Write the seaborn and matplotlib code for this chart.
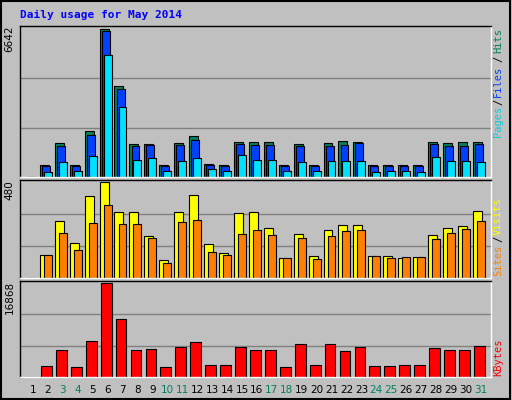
import matplotlib
matplotlib.use("Agg")
import matplotlib.pyplot as plt
import numpy as np
import pandas as pd
import seaborn as sns

sns.set_style("white")
plt.rcParams["font.family"] = ["DejaVu Sans"]

DAYS = list(range(1, 32))
WEEKEND = [3, 4, 10, 11, 17, 18, 24, 25, 31]

HITS = [0, 528, 1525, 528, 2068, 6642, 4061, 1479, 1479, 528, 1525, 1842, 574, 528, 1570, 1570,
        1570, 528, 1479, 528, 1525, 1615, 1570, 528, 528, 528, 528, 1570, 1525, 1570, 1570]
FILES = [0, 483, 1389, 483, 1887, 6551, 3970, 1389, 1434, 483, 1434, 1660, 528, 483, 1479, 1434,
         1434, 483, 1389, 483, 1389, 1434, 1525, 483, 483, 483, 483, 1479, 1389, 1389, 1479]
PAGES = [0, 211, 664, 257, 936, 5464, 3155, 755, 845, 257, 709, 845, 347, 257, 981, 755,
         755, 257, 664, 257, 709, 709, 709, 211, 257, 257, 211, 890, 709, 709, 664]
VISITS = [0, 115, 287, 177, 412, 480, 329, 329, 209, 89, 329, 417, 172, 125, 323, 329,
          250, 99, 219, 110, 240, 266, 266, 110, 110, 99, 104, 214, 250, 261, 334]
SITES = [0, 115, 224, 141, 277, 365, 271, 271, 198, 73, 282, 292, 130, 115, 219, 240,
         214, 99, 198, 94, 209, 235, 240, 110, 99, 104, 104, 193, 224, 245, 287]
KBYTES = [0, 1908, 4863, 1724, 6526, 16868, 10404, 4863, 5048, 1724, 5417, 6341, 2093, 2093, 5417, 4863,
          4863, 1724, 5971, 2093, 5971, 4679, 5417, 1908, 1908, 2093, 2093, 5233, 4863, 4863, 5602]

BG = "#C0C0C0"
GREEN = "#00805C"

df = pd.DataFrame({"day": DAYS, "hits": HITS, "files": FILES, "pages": PAGES,
                   "visits": VISITS, "sites": SITES, "kbytes": KBYTES})
x = df["day"].to_numpy(dtype=float)

fig = plt.figure(figsize=(5.12, 4.0), dpi=100, facecolor=BG)
fig.patches.append(plt.Rectangle((0.002, 0.002), 0.995, 0.995, transform=fig.transFigure,
                                 fill=False, edgecolor="black", linewidth=1.5))

left, width = 20 / 512, 471 / 512
ax1 = fig.add_axes([left, 1 - 177 / 400, width, 151 / 400])
ax2 = fig.add_axes([left, 1 - 278 / 400, width, 98 / 400])
ax3 = fig.add_axes([left, 1 - 377 / 400, width, 96 / 400])

bar_kw = dict(edgecolor="black", linewidth=0.8, align="edge")
ax1.bar(x - 0.54, df["hits"], width=0.6, color=GREEN, **bar_kw)
ax1.bar(x - 0.40, df["files"], width=0.53, color="#0040FF", **bar_kw)
ax1.bar(x - 0.27, df["pages"], width=0.53, color="#00E0FF", **bar_kw)

ax2.bar(x - 0.54, df["visits"], width=0.6, color="#FFFF00", **bar_kw)
ax2.bar(x - 0.27, df["sites"], width=0.53, color="#FF8000", **bar_kw)

ax3.bar(x - 0.46, df["kbytes"], width=0.72, color="#FF0000", **bar_kw)

for ax, top, label in [(ax1, max(HITS), "6642"), (ax2, max(VISITS), "480"), (ax3, max(KBYTES), "16868")]:
    ax.set_facecolor(BG)
    ax.set_xlim(0.13, 31.68)
    ax.set_ylim(0, top * 1.02)
    for frac in (1 / 3, 2 / 3):
        ax.axhline(top * frac, color="#808080", linewidth=1, zorder=0)
    ax.set_xticks([])
    ax.set_yticks([])
    for s in ax.spines.values():
        s.set_color("black")
        s.set_linewidth(1)
    ax.spines["bottom"].set_color("white")
    ax.spines["right"].set_color("white")
    ax.text(-0.012, 1.0, label, transform=ax.transAxes, rotation=90, ha="right", va="top",
            fontsize=7.5, color="black")

for d in DAYS:
    ax3.text(d, -0.08, str(d), transform=ax3.get_xaxis_transform(), ha="center", va="top",
             fontsize=7.5, color=GREEN if d in WEEKEND else "black")

fig.text(20 / 512, 1 - 15 / 400, "Daily usage for May 2014", color="#0000FF", fontsize=8,
         fontweight="bold", family="DejaVu Sans Mono", va="center")

mono = dict(family="DejaVu Sans Mono", fontsize=7.5, rotation=90, ha="center", va="bottom")
xr = 498 / 512
for text, color, y0 in [("Pages", "#00D0E0", 137), ("/", "black", 105), ("Files", "#0040FF", 97),
                        ("/", "black", 62), ("Hits", GREEN, 53),
                        ("Sites", "#FF8000", 276), ("/", "black", 242), ("Visits", "#FFFF00", 235),
                        ("KBytes", "#FF0000", 376)]:
    fig.text(xr, 1 - y0 / 400, text, color=color, **mono)

fig.savefig("out.png", dpi=100, facecolor=BG)
